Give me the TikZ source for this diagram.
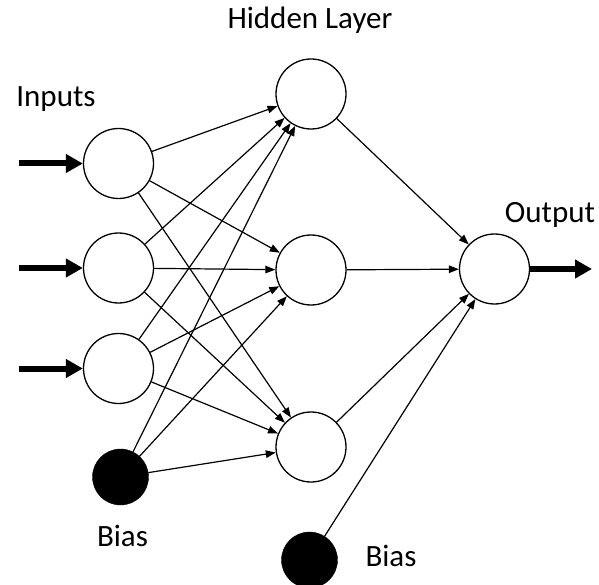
\documentclass[tikz,border=0pt]{standalone}
\usepackage{fontspec}
\setmainfont{Carlito}
\usetikzlibrary{arrows.meta}
\begin{document}
\begin{tikzpicture}[x=1pt,y=-1pt,
  neuron/.style={circle,draw,line width=1.3pt,inner sep=0pt,minimum size=70pt,fill=white},
  biasnode/.style={circle,fill=black,draw=black,inner sep=0pt,minimum size=56pt},
  conn/.style={line width=1.2pt,-{Triangle[length=10pt,width=7.5pt]}},
  bigarrow/.style={line width=6pt,-{Triangle[length=17pt,width=18pt]}},
  lbl/.style={font=\fontsize{31}{33}\selectfont,anchor=base,inner sep=0pt}]
\useasboundingbox (0,0) rectangle (599,585);
% input nodes
\node[neuron] (i1) at (118.5,163.5) {};
\node[neuron] (i2) at (118.5,268) {};
\node[neuron] (i3) at (118.5,368.5) {};
\node[biasnode] (b1) at (120.5,477) {};
% hidden
\node[neuron] (h1) at (311,94) {};
\node[neuron] (h2) at (311,270) {};
\node[neuron] (h3) at (311,447) {};
\node[biasnode] (b2) at (309.5,560) {};
% output
\node[neuron] (o) at (494.5,269) {};
% labels
\node[lbl] (tin) at (56,107) {Inputs};
\node[lbl] (thid) at (310,29) {Hidden Layer};
\node[lbl] (tout) at (550,223) {Output};
\node[lbl] (tb1) at (122.5,546) {Bias};
\node[lbl] (tb2) at (391,566) {Bias};
% input arrows
\coordinate (s1) at (19,163.5);
\coordinate (s2) at (19,268);
\coordinate (s3) at (19,368.5);
\coordinate (e0) at (592,269);
\draw[bigarrow] (s1) -- (i1);
\draw[bigarrow] (s2) -- (i2);
\draw[bigarrow] (s3) -- (i3);
\draw[bigarrow] (o) -- (e0);
% connections
\foreach \a in {i1,i2,i3,b1}{
  \foreach \b in {h1,h2,h3}{
    \draw[conn] (\a) -- (\b);
  }
}
\foreach \a in {h1,h2,h3,b2}{
  \draw[conn] (\a) -- (o);
}
\end{tikzpicture}
\end{document}
